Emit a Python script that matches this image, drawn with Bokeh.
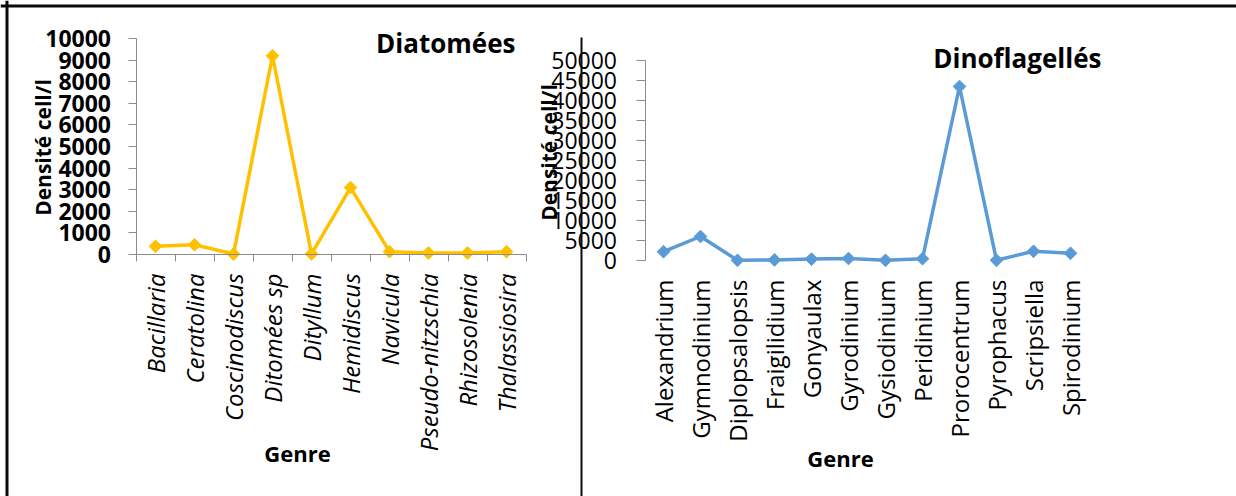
import numpy as np
from bokeh.plotting import figure
from bokeh.models import (Range1d, LinearAxis, FixedTicker, Label, Span, PolyAnnotation)
from bokeh.embed import file_html
from bokeh.resources import INLINE

# ---- data -------------------------------------------------------------
diatom_genres = ["Bacillaria", "Ceratolina", "Coscinodiscus", "Ditomées sp",
                 "Dityllum", "Hemidiscus", "Navicula", "Pseudo-nitzschia",
                 "Rhizosolenia", "Thalassiosira"]
diatom_density = [380, 450, 20, 9200, 30, 3100, 130, 70, 70, 130]
diatom_ticks = list(range(0, 10001, 1000))

dino_genres = ["Alexandrium", "Gymnodinium", "Diplopsalopsis", "Fraigilidium",
               "Gonyaulax", "Gyrodinium", "Gysiodinium", "Peridinium",
               "Prorocentrum", "Pyrophacus", "Scripsiella", "Spirodinium"]
dino_density = [2200, 6000, 50, 150, 350, 500, 50, 450, 43500, 50, 2300, 1800]
dino_ticks = list(range(0, 50001, 5000))

# ---- page geometry ----------------------------------------------------
W, H = 1236, 496
FONT = "Open Sans"
AXIS_GREY = "#8c8c8c"
GOLD = "#FFC000"
BLUE = "#5B9BD5"
FRAME = "#0a0a0a"


def linear_range(px_a, val_a, px_b, val_b, px_lo, px_hi):
    """Range whose values land on the given canvas pixels."""
    k = (val_b - val_a) / (px_b - px_a)
    return Range1d(val_a + (px_lo - px_a) * k, val_a + (px_hi - px_a) * k)


# left panel: category i centred at 155 + 39*i ; 0 -> y 254, 10000 -> y 38
lx = linear_range(155, 0, 194, 1, 0, W)
ly = linear_range(H - 254, 0, H - 38, 10000, 0, H)
# right panel: category i centred at 663 + 37*i ; 0 -> y 260, 50000 -> y 60
rx = linear_range(663, 0, 700, 1, 0, W)
ry = linear_range(H - 260, 0, H - 60, 50000, 0, H)

p = figure(width=W, height=H, x_range=lx, y_range=ly,
           x_axis_type=None, y_axis_type=None,
           toolbar_location=None, output_backend="svg",
           min_border=0, outline_line_color=None)
p.title.visible = False
p.grid.visible = False
p.extra_x_ranges = {"rx": rx}
p.extra_y_ranges = {"ry": ry}
p.background_fill_color = "white"
p.border_fill_color = "white"


def style_common(ax):
    ax.minor_tick_line_color = None
    ax.major_tick_in = 0
    ax.axis_line_color = AXIS_GREY
    ax.major_tick_line_color = AXIS_GREY
    ax.major_label_text_font = FONT
    ax.major_label_text_color = "black"


# ---- diatoms ------------------------------------------------------------
n_d = len(diatom_genres)
d_idx = list(range(n_d))

yax_d = LinearAxis(fixed_location=-0.5, ticker=FixedTicker(ticks=diatom_ticks),
                   bounds=(0, 10000))
style_common(yax_d)
yax_d.major_tick_out = 8
yax_d.major_label_standoff = 17
yax_d.major_label_text_font_size = "23px"
yax_d.major_label_text_font_style = "bold"
p.add_layout(yax_d, "left")

# category boundaries carry the tick marks
xax_d_ticks = LinearAxis(fixed_location=0,
                         ticker=FixedTicker(ticks=[i - 0.5 for i in range(n_d + 1)]),
                         bounds=(-0.5, n_d - 0.5))
style_common(xax_d_ticks)
xax_d_ticks.major_tick_out = 7
xax_d_ticks.major_label_text_color = None
p.add_layout(xax_d_ticks, "below")

xax_d = LinearAxis(fixed_location=0, ticker=FixedTicker(ticks=d_idx),
                   bounds=(0, n_d - 1),
                   major_label_overrides={i: g for i, g in enumerate(diatom_genres)})
style_common(xax_d)
xax_d.axis_line_color = None
xax_d.major_tick_line_color = None
xax_d.major_tick_out = 0
xax_d.major_label_orientation = np.pi / 2
xax_d.major_label_standoff = 19
xax_d.major_label_text_font_size = "24px"
xax_d.major_label_text_font_style = "italic"
p.add_layout(xax_d, "below")

p.line(d_idx, diatom_density, line_color=GOLD, line_width=3.5)
p.scatter(d_idx, diatom_density, marker="square", angle=np.pi / 4, size=9,
          fill_color=GOLD, line_color=GOLD)

# ---- dinoflagellates ------------------------------------------------------
n_f = len(dino_genres)
f_idx = list(range(n_f))

yax_f = LinearAxis(x_range_name="rx", y_range_name="ry", fixed_location=-0.5,
                   ticker=FixedTicker(ticks=dino_ticks), bounds=(0, 50000))
style_common(yax_f)
yax_f.major_tick_out = 9
yax_f.major_label_standoff = 19
yax_f.major_label_text_font_size = "23px"
p.add_layout(yax_f, "left")

xax_f = LinearAxis(x_range_name="rx", y_range_name="ry", fixed_location=0,
                   ticker=FixedTicker(ticks=f_idx), bounds=(0, n_f - 1),
                   major_label_overrides={i: g for i, g in enumerate(dino_genres)})
style_common(xax_f)
xax_f.axis_line_color = None
xax_f.major_tick_line_color = None
xax_f.major_tick_out = 0
xax_f.major_label_orientation = np.pi / 2
xax_f.major_label_standoff = 19
xax_f.major_label_text_font_size = "24px"
p.add_layout(xax_f, "below")

p.line(f_idx, dino_density, x_range_name="rx", y_range_name="ry",
       line_color=BLUE, line_width=3.5)
p.scatter(f_idx, dino_density, x_range_name="rx", y_range_name="ry",
          marker="square", angle=np.pi / 4, size=9,
          fill_color=BLUE, line_color=BLUE)


# ---- titles ---------------------------------------------------------------
def add_text(text, x, y, size, style="bold", align="center", angle=0.0):
    p.add_layout(Label(x=x, y=H - y, x_units="screen", y_units="screen",
                       text=text, text_font=FONT, text_font_size=size,
                       text_font_style=style, text_align=align,
                       text_baseline="middle", angle=angle,
                       text_color="black"))


add_text("Diatomées", 515, 42, "26px", align="right")
add_text("Dinoflagellés", 1101, 57, "26px", align="right")
add_text("Densité cell/l", 42, 147, "21px", angle=np.pi / 2)
add_text("Densité cell/l", 548, 152, "21px", angle=np.pi / 2)
add_text("Genre", 297, 452, "22px")
add_text("Genre", 840, 457, "22px")

# ---- frame lines ------------------------------------------------------------
p.add_layout(Span(location=6.5, location_units="screen", dimension="height",
                  line_color=FRAME, line_width=3))
p.add_layout(Span(location=H - 5.5, location_units="screen", dimension="width",
                  line_color=FRAME, line_width=3))
p.add_layout(PolyAnnotation(xs=[580, 582, 582, 580], ys=[H - 37, H - 37, -5, -5],
                            xs_units="screen", ys_units="screen",
                            fill_color=FRAME, fill_alpha=1.0, line_color=None))

open("out.html", "w").write(file_html(p, INLINE))
